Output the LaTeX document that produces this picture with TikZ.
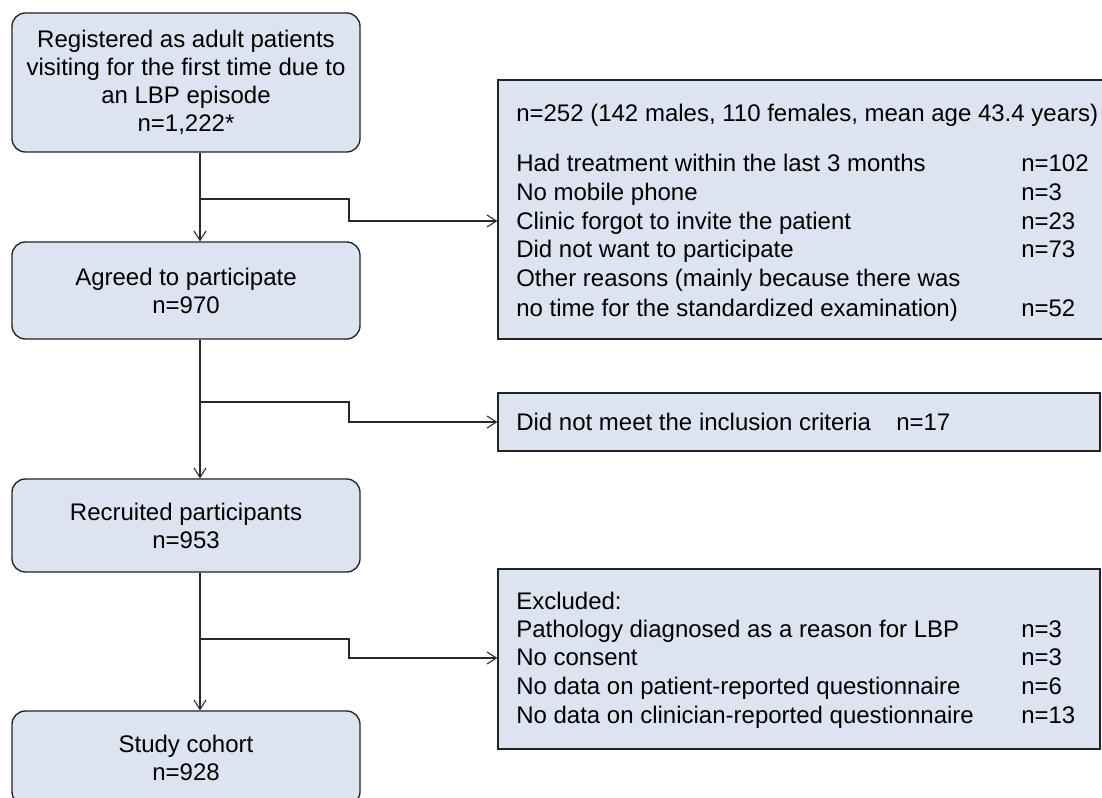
\documentclass[tikz,border=0pt]{standalone}
\usepackage{fontspec}
\setmainfont{Liberation Sans}
\usetikzlibrary{arrows.meta}
\definecolor{boxfill}{RGB}{220,228,241}
\definecolor{edgecol}{RGB}{35,35,35}
\definecolor{linecol}{RGB}{40,40,40}
\begin{document}
\begin{tikzpicture}[x=0.75pt,y=-0.75pt,
  font=\fontsize{18}{21}\selectfont,
  leftbox/.style={draw=edgecol, line width=1pt, fill=boxfill, rounded corners=10pt,
    minimum width=261pt, inner sep=0pt, align=center},
  rightbox/.style={draw=edgecol, line width=1pt, fill=boxfill, inner sep=0pt},
  txt/.style={anchor=base west, inner sep=0pt},
  conn/.style={draw=linecol, line width=0.8pt},
  arr/.style={conn, -{Straight Barb[length=7pt,width=9pt]}}]
\useasboundingbox (0,0) rectangle (1102,798);
\clip (0,0) rectangle (1102,798);
\fill[white] (0,0) rectangle (1102,798);

% left column boxes
\node[leftbox, minimum height=104.25pt] (b1) at (186,82.5)
  {Registered as adult patients\\visiting for the first time due to\\an LBP episode\\n=1,222*};
\node[leftbox, minimum height=72.75pt] (b2) at (186,290.5)
  {Agreed to participate\\n=970};
\node[leftbox, minimum height=69.75pt] (b3) at (186,525.5)
  {Recruited participants\\n=953};
\node[leftbox, minimum height=70.5pt] (b4) at (186,758)
  {Study cohort\\n=928};

% right column boxes
\node[rightbox, minimum width=454.5pt, minimum height=194.25pt] (r1) at (801,209.5) {};
\node[rightbox, minimum width=451.5pt, minimum height=43.5pt] (r2) at (799,422) {};
\node[rightbox, minimum width=451.5pt, minimum height=135pt] (r3) at (799,659) {};

% texts in right box 1
\node[txt] (r1a) at (516,122) {n=252 (142 males, 110 females, mean age 43.4 years)};
\node[txt] (r1b) at (516,172) {Had treatment within the last 3 months};
\node[txt] (r1bn) at (1021,172) {n=102};
\node[txt] (r1c) at (516,201) {No mobile phone};
\node[txt] (r1cn) at (1021,201) {n=3};
\node[txt] (r1d) at (516,230) {Clinic forgot to invite the patient};
\node[txt] (r1dn) at (1021,230) {n=23};
\node[txt] (r1e) at (516,258) {Did not want to participate};
\node[txt] (r1en) at (1021,258) {n=73};
\node[txt] (r1f) at (516,287) {Other reasons (mainly because there was};
\node[txt] (r1g) at (516,316) {no time for the standardized examination)};
\node[txt] (r1gn) at (1021,316) {n=52};

% text in right box 2
\node[txt] (r2a) at (516,430) {Did not meet the inclusion criteria};
\node[txt] (r2an) at (896,430) {n=17};

% texts in right box 3
\node[txt] (r3a) at (516,609) {Excluded:};
\node[txt] (r3b) at (516,637) {Pathology diagnosed as a reason for LBP};
\node[txt] (r3bn) at (1021,637) {n=3};
\node[txt] (r3c) at (516,665) {No consent};
\node[txt] (r3cn) at (1021,665) {n=3};
\node[txt] (r3d) at (516,694) {No data on patient-reported questionnaire};
\node[txt] (r3dn) at (1021,694) {n=6};
\node[txt] (r3e) at (516,723) {No data on clinician-reported questionnaire};
\node[txt] (r3en) at (1021,723) {n=13};

% trunk
\coordinate (tr) at (200,0);
\draw[arr] (b1.south -| tr) -- (b2.north -| tr);
\draw[arr] (b2.south -| tr) -- (b3.north -| tr);
\draw[arr] (b3.south -| tr) -- (b4.north -| tr);

% branches
\coordinate (j1) at (200,199);
\coordinate (k1) at (349,221);
\draw[arr] (j1) -| (k1) -- (k1 -| r1.west);
\coordinate (j2) at (200,402);
\coordinate (k2) at (349,422);
\draw[arr] (j2) -| (k2) -- (k2 -| r2.west);
\coordinate (j3) at (200,639);
\coordinate (k3) at (349,658);
\draw[arr] (j3) -| (k3) -- (k3 -| r3.west);
\end{tikzpicture}
\end{document}
